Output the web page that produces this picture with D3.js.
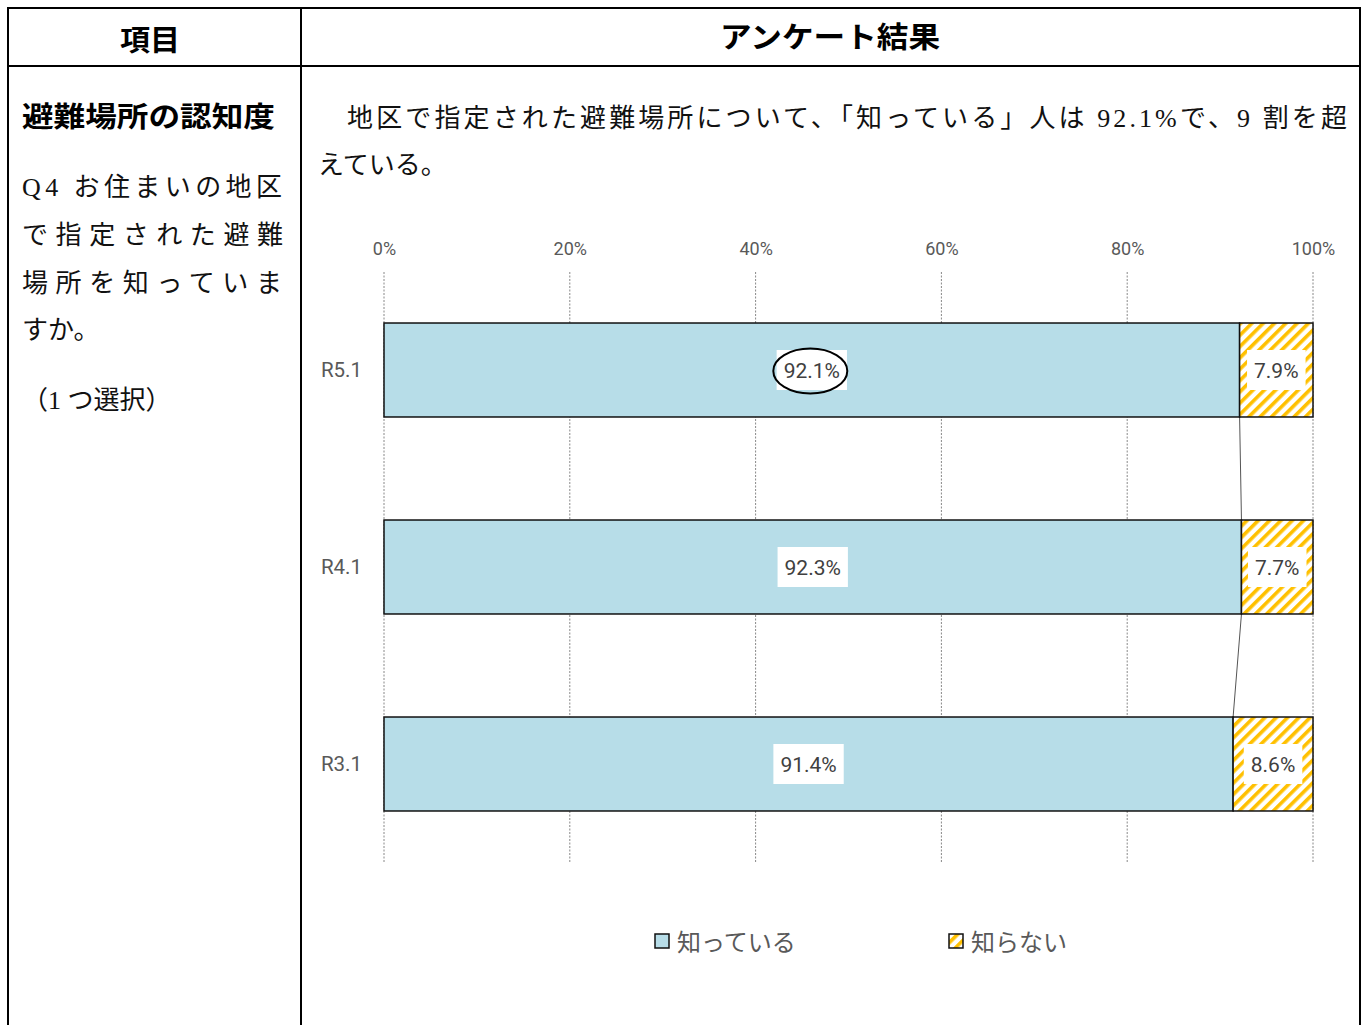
<!DOCTYPE html>
<html><head><meta charset="utf-8">
<script src="https://cdn.jsdelivr.net/npm/d3@7/dist/d3.min.js"></script>
<style>
html,body{margin:0;padding:0;background:#fff;}
svg{display:block;}
</style></head>
<body>
<svg id="c" width="1367" height="1025"></svg>
<script>
const categories = ["R5.1", "R4.1", "R3.1"];
const seriesNames = ["知っている", "知らない"];
const known = [92.1, 92.3, 91.4];
const unknown = [7.9, 7.7, 8.6];
const tickValues = [0, 20, 40, 60, 80, 100];
const tickLabels = ["0%", "20%", "40%", "60%", "80%", "100%"];

const svg = d3.select("#c");
const sans = "'Noto Sans CJK JP','Noto Sans',sans-serif";
const serif = "'Liberation Serif','Noto Sans CJK JP',serif";
const num = "'Roboto','Noto Sans',sans-serif";

// pattern
const defs = svg.append("defs");
const pat = defs.append("pattern").attr("id","hatch").attr("patternUnits","userSpaceOnUse")
  .attr("width",8).attr("height",8).attr("patternTransform","rotate(45)");
pat.append("rect").attr("width",8).attr("height",8).attr("fill","#fff");
pat.append("rect").attr("x",0).attr("width",3.6).attr("height",8).attr("fill","#FFC000");

// table
const T = svg.append("g");
T.append("line").attr("x1",7).attr("x2",1361).attr("y1",8).attr("y2",8).attr("stroke","#000").attr("stroke-width",2);
T.append("line").attr("x1",7).attr("x2",1361).attr("y1",66).attr("y2",66).attr("stroke","#000").attr("stroke-width",2);
T.append("line").attr("x1",8).attr("x2",8).attr("y1",7).attr("y2",1025).attr("stroke","#000").attr("stroke-width",2);
T.append("line").attr("x1",301).attr("x2",301).attr("y1",7).attr("y2",1025).attr("stroke","#000").attr("stroke-width",2);
T.append("line").attr("x1",1360).attr("x2",1360).attr("y1",7).attr("y2",1025).attr("stroke","#000").attr("stroke-width",2);

T.append("text").attr("x",120).attr("y",51).attr("font-family",sans)
  .attr("font-weight","bold").attr("font-size",29).attr("textLength",60).attr("lengthAdjust","spacingAndGlyphs").text("項目");
T.append("text").attr("x",720).attr("y",48).attr("font-family",sans)
  .attr("font-weight","bold").attr("font-size",29).attr("textLength",220).attr("lengthAdjust","spacingAndGlyphs").text("アンケート結果");

T.append("text").attr("x",22).attr("y",127).attr("font-family",sans).attr("font-weight","bold")
  .attr("font-size",28).attr("textLength",253).attr("lengthAdjust","spacingAndGlyphs").text("避難場所の認知度");

const leftLines = [["Q4 お住まいの地区",196,260],["で指定された避難",244,261],["場所を知っていま",292,260]];
leftLines.forEach(d=>{
  T.append("text").attr("x",22).attr("y",d[1]).attr("font-family",serif).attr("font-size",26)
   .attr("textLength",d[2]).attr("lengthAdjust","spacing").attr("fill","#111").text(d[0]);
});
T.append("text").attr("x",22).attr("y",339).attr("font-family",serif).attr("font-size",26)
  .attr("fill","#111").text("すか。");
T.append("text").attr("x",22).attr("y",409).attr("font-family",serif).attr("font-size",26)
  .attr("fill","#111").text("（1 つ選択）");

T.append("text").attr("x",318).attr("y",127).attr("font-family",serif).attr("font-size",26)
  .attr("textLength",1029).attr("lengthAdjust","spacing").attr("fill","#111")
  .text("　地区で指定された避難場所について、「知っている」人は 92.1%で、9 割を超");
T.append("text").attr("x",318).attr("y",174).attr("font-family",serif).attr("font-size",26)
  .attr("fill","#111").text("えている。");

// chart
const x = d3.scaleLinear().domain([0,100]).range([384,1313]);
const y = d3.scaleBand().domain(categories).range([271.5,862.5]).paddingInner(0.523).paddingOuter(0.2615);

const G = svg.append("g");
G.selectAll("line.grid").data(tickValues).join("line").attr("class","grid")
  .attr("x1",d=>x(d)).attr("x2",d=>x(d)).attr("y1",272).attr("y2",862)
  .attr("stroke","#888").attr("stroke-width",1).attr("stroke-dasharray","2,1.5");

const ax = d3.axisTop(x).tickValues(tickValues).tickFormat((d,i)=>tickLabels[i]).tickSize(0).tickPadding(0);
const axg = G.append("g").attr("transform","translate(0,255)").call(ax);
axg.select(".domain").remove();
axg.selectAll("text").attr("font-family",num).attr("font-size",18).attr("fill","#595959");

G.selectAll("text.cat").data(categories).join("text").attr("class","cat")
  .attr("x",362).attr("y",d=>y(d)+y.bandwidth()/2+7).attr("text-anchor","end")
  .attr("font-family",num).attr("font-size",20.5).attr("fill","#595959").text(d=>d);

for(let i=0;i<categories.length-1;i++){
  G.append("line").attr("x1",x(known[i])).attr("y1",y(categories[i])+y.bandwidth())
   .attr("x2",x(known[i+1])).attr("y2",y(categories[i+1]))
   .attr("stroke","#555").attr("stroke-width",1);
}

G.selectAll("rect.k").data(categories).join("rect").attr("class","k")
  .attr("x",x(0)).attr("y",d=>y(d)).attr("width",(d,i)=>x(known[i])-x(0)).attr("height",y.bandwidth())
  .attr("fill","#B7DDE8").attr("stroke","#111").attr("stroke-width",1.5);
G.selectAll("rect.u").data(categories).join("rect").attr("class","u")
  .attr("x",(d,i)=>x(known[i])).attr("y",d=>y(d)).attr("width",(d,i)=>x(known[i]+unknown[i])-x(known[i])).attr("height",y.bandwidth())
  .attr("fill","url(#hatch)").attr("stroke","#111").attr("stroke-width",1.5);

function label(cx, cy, txt){
  const r = G.append("rect").attr("fill","#fff");
  const t = G.append("text").attr("x",cx).attr("y",cy+7.5).attr("text-anchor","middle").attr("font-family",num)
   .attr("font-size",21).attr("fill","#404040").text(txt);
  const w = t.node().getComputedTextLength() + 14, h = 40;
  r.attr("x",cx-w/2).attr("y",cy-h/2).attr("width",w).attr("height",h);
}
categories.forEach((c,i)=>{
  const cy = y(c)+y.bandwidth()/2;
  label((x(0)+x(known[i]))/2, cy, known[i].toFixed(1)+"%");
  label((x(known[i])+x(known[i]+unknown[i]))/2, cy, unknown[i].toFixed(1)+"%");
});
G.append("ellipse").attr("cx",(x(0)+x(known[0]))/2-1.5).attr("cy",y(categories[0])+y.bandwidth()/2+1)
  .attr("rx",37).attr("ry",22.5).attr("fill","none").attr("stroke","#000").attr("stroke-width",2);

const L = svg.append("g");
const legX = [655, 949];
seriesNames.forEach((s,i)=>{
  L.append("rect").attr("x",legX[i]).attr("y",934).attr("width",14).attr("height",14)
   .attr("fill", i===0 ? "#B7DDE8" : "url(#hatch)").attr("stroke","#111").attr("stroke-width",1.5);
  L.append("text").attr("x",legX[i]+22).attr("y",951).attr("font-family",sans).attr("font-size",24)
   .attr("fill","#595959").text(s);
});
</script>
</body></html>
